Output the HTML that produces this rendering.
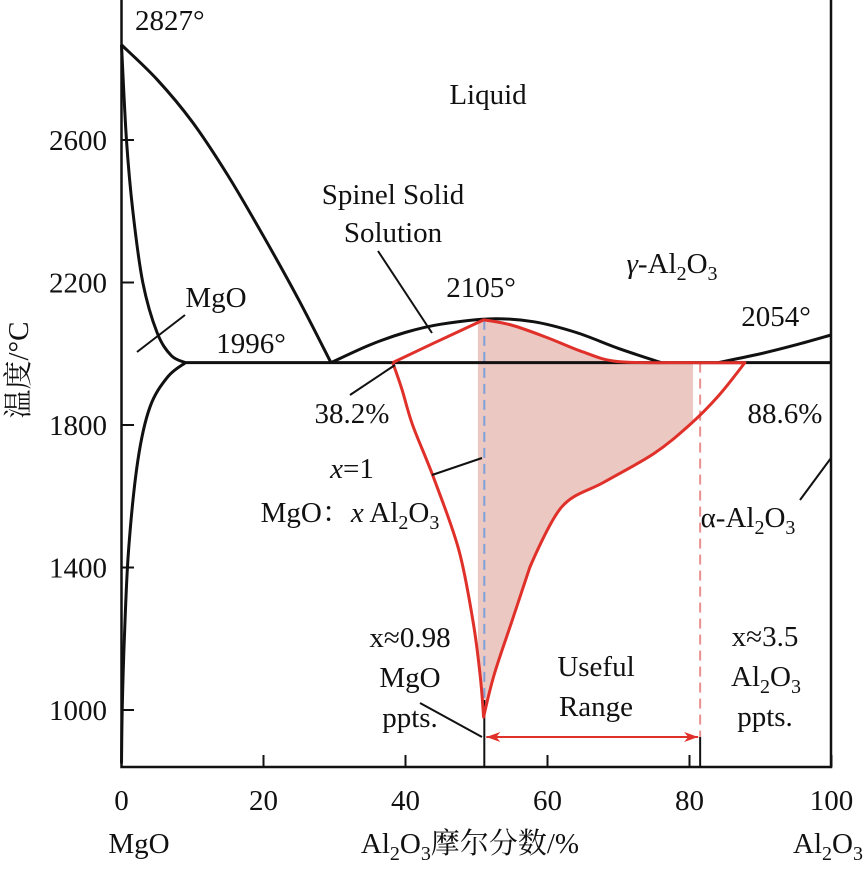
<!DOCTYPE html>
<html><head><meta charset="utf-8"><style>
body{margin:0;background:#fff}
svg text{font-family:"Liberation Serif","Noto Serif CJK SC",serif;font-size:29px;fill:#111}
</style></head><body>
<svg width="866" height="867">
<g id="plot"></g>
</svg>
<script>
const xTicks=[0,20,40,60,80,100];
const yTicks=[1000,1400,1800,2200,2600];
const leftLiquidus=[[0,2867],[5,2770],[10,2650],[15,2500],[20,2330],[25,2150],[29.5,1975]];
const mgoSolidus=[[0,2867],[0.7,2600],[1.6,2400],[3,2200],[5,2060],[7,1995],[9,1975]];
const mgoSolvus=[[9,1975],[6.5,1935],[4,1850],[2.3,1700],[1,1450],[0.4,1200],[0.1,1000],[0,850]];
const spinelLiquidus=[[29.5,1975],[35,2025],[40,2060],[45,2083],[52,2098],[58,2090],[64,2060],[70,2015],[76,1975]];
const alLiquidus=[[84,1975],[90,2000],[95,2025],[100,2053]];
const eutectic=[[9,1975],[100,1975]];
const spinelField=[[38.2,1975],[44,2030],[51,2095],[55,2080],[60,2045],[65,2005],[70,1978],[80,1975],[87.8,1975],[84,1880],[80,1800],[75,1720],[68,1640],[62,1570],[57.5,1400],[55,1250],[52.5,1100],[51,980],[50.5,1100],[49.5,1250],[47.5,1450],[44,1650],[41,1800],[39.5,1900],[38.2,1975]];
const shadeRange=[50.2,80.5];
const X=v=>121.5+v*7.1, Y=t=>710-(t-1000)*0.35625;
const ns="http://www.w3.org/2000/svg", g=document.getElementById('plot');
function mk(tag,attrs,name){const e=document.createElementNS(ns,tag);for(const k in attrs)e.setAttribute(k,attrs[k]);


g.appendChild(e);return e;}
function smooth(a,sharp){const p=a.map(q=>[X(q[0]),Y(q[1])]);let d=`M${p[0][0]},${p[0][1]}`;
for(let i=0;i<p.length-1;i++){const p0=p[Math.max(i-1,0)],p1=p[i],p2=p[i+1],p3=p[Math.min(i+2,p.length-1)];
const s1=sharp&&sharp.includes(i)?0:1/6, s2=sharp&&sharp.includes(i+1)?0:1/6;
d+=` C${p1[0]+(p2[0]-p0[0])*s1},${p1[1]+(p2[1]-p0[1])*s1} ${p2[0]-(p3[0]-p1[0])*s2},${p2[1]-(p3[1]-p1[1])*s2} ${p2[0]},${p2[1]}`;}
return d;}
const defs=mk('defs',{},'defs');
const cp=document.createElementNS(ns,'clipPath');cp.setAttribute('id','cl');defs.appendChild(cp);
const r=document.createElementNS(ns,'rect');r.setAttribute('x',X(shadeRange[0]));r.setAttribute('y',0);r.setAttribute('width',X(shadeRange[1])-X(shadeRange[0]));r.setAttribute('height',800);cp.appendChild(r);
const sharpIdx=[0,2,8,14,17,24];
mk('path',{d:smooth(spinelField,sharpIdx)+'Z',fill:'#ecc8c3','clip-path':'url(#cl)'},'useful-range-shade');
mk('path',{d:`M121.5,0 V767 H831 V0`,fill:'none',stroke:'#111','stroke-width':2.5},'axes-frame');
xTicks.forEach(v=>{mk('line',{x1:X(v),x2:X(v),y1:767,y2:755,stroke:'#111','stroke-width':2},'x-tick');
const t=mk('text',{x:X(v),y:810,'text-anchor':'middle'},'x-tick-label');t.textContent=v;});
yTicks.forEach(v=>{mk('line',{x1:121.5,x2:134,y1:Y(v),y2:Y(v),stroke:'#111','stroke-width':2},'y-tick');
const t=mk('text',{x:107,y:Y(v)+10,'text-anchor':'end'},'y-tick-label');t.textContent=v;});
mk('line',{x1:X(51.1),x2:X(51.1),y1:Y(2095),y2:700,stroke:'#7f9fd8','stroke-width':2,'stroke-dasharray':'10,6'},'x1-dashed-line');
mk('line',{x1:X(81.5),x2:X(81.5),y1:Y(1975),y2:737,stroke:'#e89090','stroke-width':2,'stroke-dasharray':'10,6'},'x35-dashed-line');
mk('line',{x1:X(51.1),x2:X(51.1),y1:700,y2:767,stroke:'#111','stroke-width':2},'x098-line');
mk('line',{x1:X(81.5),x2:X(81.5),y1:737,y2:767,stroke:'#111','stroke-width':2},'x35-line');
[[leftLiquidus,'mgo-liquidus'],[mgoSolidus,'mgo-solidus'],[mgoSolvus,'mgo-solvus'],[spinelLiquidus,'spinel-liquidus'],[alLiquidus,'alumina-liquidus'],[eutectic,'eutectic-line']].forEach(([a,n])=>
mk('path',{d:smooth(a),fill:'none',stroke:'#111','stroke-width':3,'stroke-linejoin':'round'},n));
mk('path',{d:smooth(spinelField,sharpIdx),fill:'none',stroke:'#e0302a','stroke-width':3,'stroke-linejoin':'round'},'spinel-boundary');
mk('line',{x1:X(51.1)+2,x2:X(81.5)-2,y1:737,y2:737,stroke:'#e0302a','stroke-width':2},'useful-range-arrow');
mk('path',{d:`M${X(51.1)+2},737 l14,-5 l-4,5 l4,5z M${X(81.5)-2},737 l-14,-5 l4,5 l-4,5z`,fill:'#e0302a'},'arrow-heads');
[[137,352,185,315],[378,251,432,333],[350,395,395,365],[432,475,482,458],[420,703,482,737],[800,500,831,458]].forEach(l=>
mk('line',{x1:l[0],y1:l[1],x2:l[2],y2:l[3],stroke:'#111','stroke-width':2},'pointer-line'));
const labels=[[135,30,'2827°','start'],[488,104,'Liquid','middle'],[393,204,'Spinel Solid','middle'],[393,242,'Solution','middle'],[481,297,'2105°','middle'],[776,326,'2054°','middle'],[216,307,'MgO','middle'],[251,353,'1996°','middle'],[352,423,'38.2%','middle'],[785,423,'88.6%','middle'],[410,727,'ppts.','middle'],[410,687,'MgO','middle'],[410,647,'x≈0.98','middle'],[596,676,'Useful','middle'],[596,716,'Range','middle'],[765,646,'x≈3.5','middle'],[765,726,'ppts.','middle'],[139,853,'MgO','middle']];
labels.forEach(l=>{const t=mk('text',{x:l[0],y:l[1],'text-anchor':l[3]},'label');t.textContent=l[2];});
const sub=s=>`<tspan font-size="20" dy="7">${s}</tspan>`;
function rich(x,y,html,anchor,name){const t=mk('text',{x:x,y:y,'text-anchor':anchor},name);t.innerHTML=html;}
rich(672,273,'<tspan font-style="italic">γ</tspan>-Al'+sub(2)+'<tspan dy="-7">O</tspan>'+sub(3),'middle','gamma-al2o3-label');
rich(748,527,'α-Al'+sub(2)+'<tspan dy="-7">O</tspan>'+sub(3),'middle','alpha-al2o3-label');
rich(352,478,'<tspan font-style="italic">x</tspan>=1','middle','x1-label');
rich(350,522,'MgO：<tspan font-style="italic">x</tspan> Al'+sub(2)+'<tspan dy="-7">O</tspan>'+sub(3),'middle','formula-label');
rich(766,686,'Al'+sub(2)+'<tspan dy="-7">O</tspan>'+sub(3),'middle','al2o3-ppts-label');
rich(470,853,'Al'+sub(2)+'<tspan dy="-7">O</tspan>'+sub(3)+'<tspan dy="-7">摩尔分数/%</tspan>','middle','x-axis-title');
rich(828,853,'Al'+sub(2)+'<tspan dy="-7">O</tspan>'+sub(3),'middle','al2o3-end-label');
const yt=mk('text',{x:0,y:0,'text-anchor':'middle',transform:'translate(28,370) rotate(-90)'},'y-axis-title');yt.textContent='温度/°C';
</script>
</body></html>
